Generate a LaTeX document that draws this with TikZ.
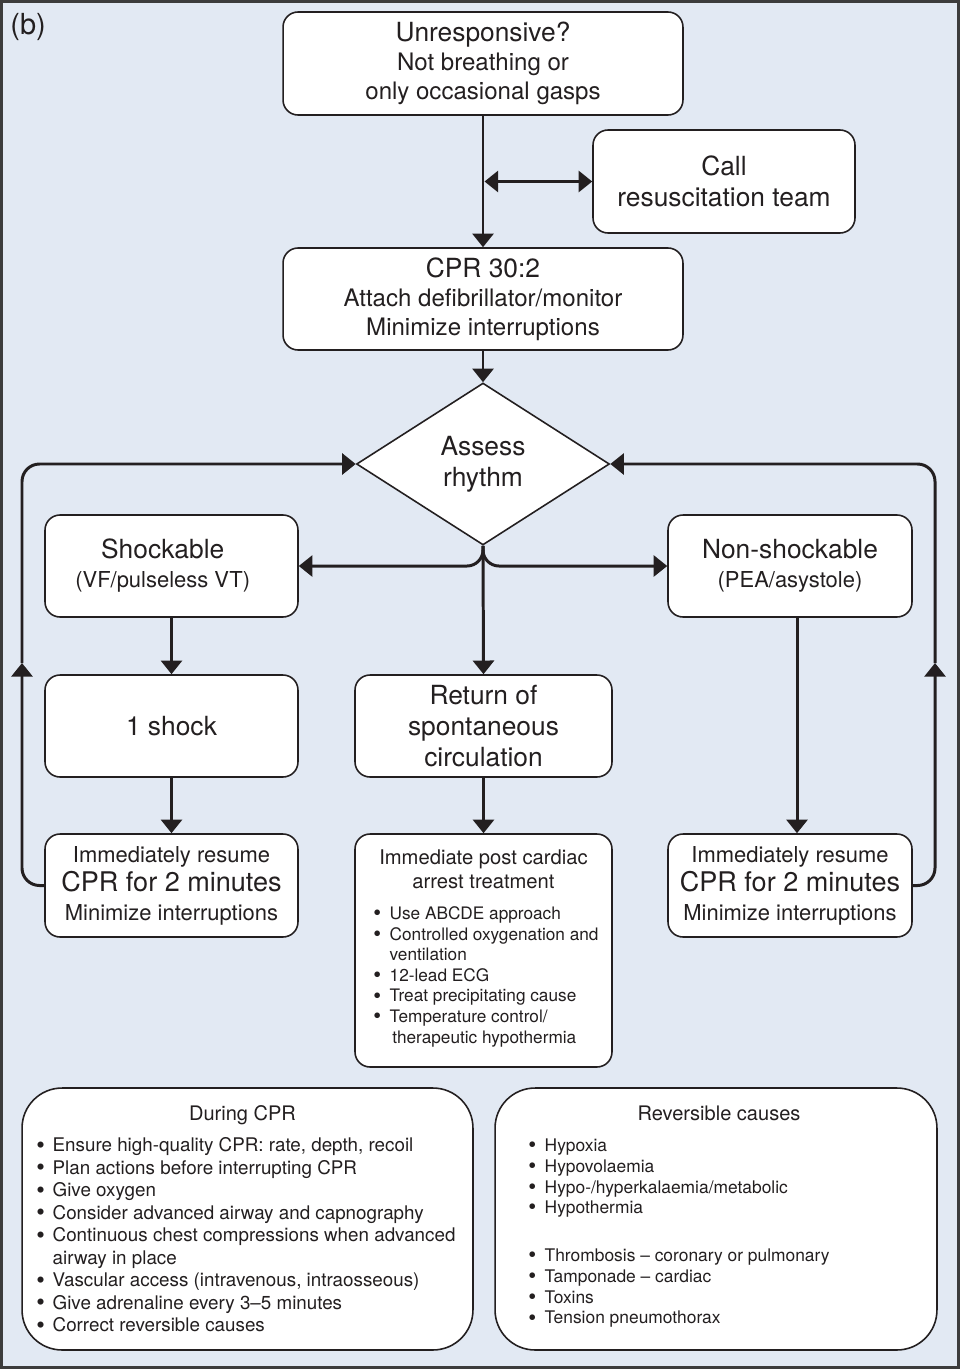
\documentclass[tikz,border=0pt]{standalone}
\usepackage{fontspec}
\setmainfont{TeX Gyre Heros}
\usetikzlibrary{arrows.meta,shapes.geometric}

\definecolor{bgblue}{RGB}{226,233,243}
\definecolor{ink}{RGB}{35,31,32}
\definecolor{frame}{RGB}{60,60,60}

\begin{document}
\begin{tikzpicture}[x=0.02cm,y=-0.02cm,
  box/.style={draw=ink,line width=0.9pt,fill=white,rounded corners=0.3cm,
    align=center,inner sep=0pt,text=ink},
  bigbox/.style={box,rounded corners=0.8cm},
  arr/.style={draw=ink,line width=1.7pt,-{Triangle[length=7.8pt,width=12pt]}},
  dblarr/.style={arr,{Triangle[length=7.8pt,width=12pt]}-{Triangle[length=7.8pt,width=12pt]}},
  txt/.style={inner sep=0pt,text=ink,align=left}]

%Font sizes
\def\fhead{\fontsize{15}{17.8}\selectfont}     %main lines
\def\fsub{\fontsize{13.7}{16.5}\selectfont}    %second lines, top boxes
\def\fnote{\fontsize{12.5}{16.5}\selectfont}   %small lines
\def\fbig{\fontsize{15.4}{18}\selectfont}      %CPR for 2 minutes
\def\ftitle{\fontsize{11.5}{13.7}\selectfont}  %list titles
\def\itm{\makebox[9.3pt][l]{\raisebox{-0.07em}{\scalebox{1.3}{\textbullet}}}} %bullet
\def\cnt{\hspace*{9.3pt}}                      %continued line

% Background and frame
\fill[bgblue] (0,0) rectangle (960,1369);
\draw[frame,line width=1.6pt] (1.5,1.5) rectangle (958.5,1367.5);
\node[txt,anchor=west,font=\fontsize{16.5}{18}\selectfont] (tag) at (10,27) {(b)};

% Top of the flow
\node[box,minimum width=8cm,minimum height=2.06cm,font=\fsub] (unresp) at (483,63.5)
  {{\fhead Unresponsive?}\\Not breathing or\\only occasional gasps};
\node[box,minimum width=5.24cm,minimum height=2.06cm,font=\fhead] (callteam) at (724,181.5)
  {Call\\resuscitation team};
\node[box,minimum width=8cm,minimum height=2.04cm,font=\fsub] (cpr) at (483,299)
  {{\fhead CPR 30:2}\\Attach defibrillator/monitor\\Minimize interruptions};
\node[box,diamond,sharp corners,aspect=1.56,minimum width=5.06cm,minimum height=3.24cm,
  font=\fhead] (assess) at (483,464) {Assess\\rhythm};

% Three branches
\node[box,minimum width=5.06cm,minimum height=2.04cm,font=\fnote] (shock) at (171.5,566)
  {{\fhead Shockable}\hspace*{10pt}\\(VF/pulseless VT)\hspace*{10pt}};
\node[box,minimum width=4.88cm,minimum height=2.04cm,font=\fnote] (nonshock) at (790,566)
  {{\fhead Non-shockable}\\(PEA/asystole)};
\node[box,minimum width=5.06cm,minimum height=2.04cm,font=\fhead] (oneshock) at (171.5,726)
  {1 shock};
\node[box,minimum width=5.14cm,minimum height=2.04cm,font=\fhead] (rosc) at (483.5,726)
  {Return of\\spontaneous\\circulation};
\node[box,minimum width=5.06cm,minimum height=2.06cm,font=\fnote] (resumeL) at (171.5,885.5)
  {Immediately resume\\{\fbig CPR for 2 minutes}\\Minimize interruptions};
\node[box,minimum width=4.88cm,minimum height=2.06cm,font=\fnote] (resumeR) at (790,885.5)
  {Immediately resume\\{\fbig CPR for 2 minutes}\\Minimize interruptions};

% Post cardiac arrest box
\node[box,minimum width=5.14cm,minimum height=4.66cm] (postcare) at (483.5,950.5) {};
\node[txt,align=center,font=\ftitle] (posttitle) at (483.5,869)
  {Immediate post cardiac\\arrest treatment};
\node[txt,anchor=north west,font=\fontsize{9.8}{11.7}\selectfont] (postlist) at (373,906.5)
  {\itm Use ABCDE approach\\
   \itm Controlled oxygenation and\\
   \cnt ventilation\\
   \itm 12-lead ECG\\
   \itm Treat precipitating cause\\
   \itm Temperature control/\\
   \cnt\hspace*{1.5pt}therapeutic hypothermia};

% Bottom boxes
\node[bigbox,minimum width=9.02cm,minimum height=5.24cm] (during) at (247.5,1219) {};
\node[txt,font=\fontsize{11.4}{13.7}\selectfont] (duringtitle) at (242.5,1115) {During CPR};
\node[txt,anchor=north west,font=\fontsize{10.7}{12.8}\selectfont] (duringlist) at (36,1137.5)
  {\itm Ensure high-quality CPR: rate, depth, recoil\\
   \itm Plan actions before interrupting CPR\\
   \itm Give oxygen\\
   \itm Consider advanced airway and capnography\\
   \itm Continuous chest compressions when advanced\\
   \cnt airway in place\\
   \itm Vascular access (intravenous, intraosseous)\\
   \itm Give adrenaline every 3--5 minutes\\
   \itm Correct reversible causes};

\node[bigbox,minimum width=8.84cm,minimum height=5.24cm] (causes) at (716,1219) {};
\node[txt,font=\fontsize{11.4}{13.7}\selectfont] (causestitle) at (719,1113) {Reversible causes};
\node[txt,anchor=north west,font=\fontsize{9.9}{11.8}\selectfont] (causeslist) at (528,1138.5)
  {\itm Hypoxia\\
   \itm Hypovolaemia\\
   \itm Hypo-/hyperkalaemia/metabolic\\
   \itm Hypothermia\\[15.5pt]
   \itm Thrombosis -- coronary or pulmonary\\
   \itm Tamponade -- cardiac\\
   \itm Toxins\\
   \itm Tension pneumothorax};

% Define coordinates
\coordinate (callfork) at (484.5,181.5);
\coordinate (midL) at (22,663);
\coordinate (midR) at (935,663);

% Connectors
\draw[arr] (unresp.south) -- (cpr.north);
\draw[dblarr] (callfork) -- (callteam.west);
\draw[arr] (cpr.south) -- (assess.north);
\draw[arr,rounded corners=0.32cm] (assess.south) |- (shock.east);
\draw[arr,rounded corners=0.32cm] (assess.south) |- (nonshock.west);
\draw[arr] (assess.south) -- (rosc.north);
\draw[arr] (shock.south) -- (oneshock.north);
\draw[arr] (oneshock.south) -- (resumeL.north);
\draw[arr] ([xshift=0.14cm]nonshock.south) -- ([xshift=0.14cm]resumeR.north);
\draw[arr] (rosc.south) -- (postcare.north);

%Loops back to the rhythm check
\draw[arr,rounded corners=0.35cm] (resumeL.west) -| (midL);
\draw[arr,rounded corners=0.35cm] (midL) |- (assess.west);
\draw[arr,rounded corners=0.35cm] (resumeR.east) -| (midR);
\draw[arr,rounded corners=0.35cm] (midR) |- (assess.east);

\end{tikzpicture}
\end{document}
